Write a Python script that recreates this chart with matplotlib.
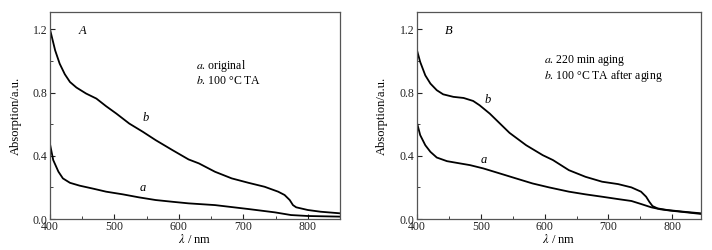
import matplotlib.pyplot as plt
from matplotlib.ticker import MultipleLocator

plt.rcParams['font.family'] = ['Liberation Serif', 'DejaVu Serif']
plt.rcParams['mathtext.fontset'] = 'stix'

# panel A
wl_a_A = [400, 405, 413, 420, 431, 446, 467, 487, 513, 538, 564, 590, 615,
          656, 708, 749, 774, 800, 850]
abs_a_A = [0.474, 0.373, 0.300, 0.257, 0.229, 0.211, 0.192, 0.173, 0.156, 0.137,
           0.120, 0.109, 0.099, 0.088, 0.063, 0.042, 0.025, 0.019, 0.015]
wl_b_A = [400, 408, 415, 423, 431, 441, 456, 472, 487, 503, 523, 544, 564, 590,
          615, 631, 656, 682, 708, 733, 754, 764, 772, 777, 782, 800, 820, 850]
abs_b_A = [1.200, 1.067, 0.983, 0.916, 0.867, 0.832, 0.794, 0.762, 0.714, 0.667,
           0.604, 0.552, 0.499, 0.436, 0.377, 0.352, 0.299, 0.257, 0.229, 0.204,
           0.173, 0.152, 0.120, 0.088, 0.074, 0.057, 0.046, 0.036]

# panel B
wl_a_B = [400, 405, 413, 421, 431, 447, 467, 483, 504, 530, 555, 581, 607, 638,
          664, 690, 715, 736, 751, 767, 782, 797, 818, 845]
abs_a_B = [0.608, 0.531, 0.467, 0.425, 0.389, 0.366, 0.352, 0.341, 0.320, 0.288,
           0.257, 0.225, 0.200, 0.173, 0.156, 0.141, 0.126, 0.114, 0.095, 0.074,
           0.061, 0.053, 0.044, 0.032]
wl_b_B = [400, 405, 413, 421, 431, 441, 457, 473, 488, 498, 514, 530, 545, 571,
          597, 613, 638, 664, 690, 715, 736, 751, 759, 764, 769, 777, 792, 818, 845]
abs_b_B = [1.067, 0.994, 0.909, 0.857, 0.815, 0.789, 0.773, 0.766, 0.747, 0.720,
           0.667, 0.604, 0.545, 0.467, 0.404, 0.373, 0.309, 0.267, 0.236, 0.221,
           0.200, 0.173, 0.141, 0.109, 0.082, 0.067, 0.057, 0.046, 0.036]

legend_A = ["original", "100 \u00b0C TA"]
legend_B = ["220 min aging", "100 \u00b0C TA after aging"]

fig = plt.figure(figsize=(7.12, 2.5), dpi=100)
axA = fig.add_axes([50/712, 31/250, 290/712, 207/250])
axB = fig.add_axes([417/712, 31/250, 284/712, 207/250])

panels = [
    (axA, wl_a_A, abs_a_A, wl_b_A, abs_b_A, 850, 'A', legend_A,
     (79, 31), (196, 66), (146, 118), (143, 188), 22),
    (axB, wl_a_B, abs_a_B, wl_b_B, abs_b_B, 845, 'B', legend_B,
     (445, 31), (544, 61), (488, 100), (484, 160), 388),
]


def fpos(p):
    # reference pixel (from top-left) -> figure fraction
    return p[0] / 712, 1 - p[1] / 250


for (ax, xa, ya, xb, yb, xmax, tag, leg, ptag, pleg, pb, pa, ylx) in panels:
    ax.plot(xa, ya, color='black', lw=1.3)
    ax.plot(xb, yb, color='black', lw=1.3)
    ax.set_xlim(400, xmax)
    ax.set_ylim(0, 1.31)
    ax.xaxis.set_major_locator(MultipleLocator(100))
    ax.xaxis.set_minor_locator(MultipleLocator(50))
    ax.yaxis.set_major_locator(MultipleLocator(0.4))
    ax.yaxis.set_minor_locator(MultipleLocator(0.2))
    ax.yaxis.set_major_formatter(lambda v, p: f"{v:.1f}")
    ax.tick_params(which='both', direction='in', top=False, right=False,
                   labelsize=8.5, colors='#222222')
    ax.tick_params(axis='x', pad=1.5)
    ax.tick_params(axis='y', pad=2)
    ax.tick_params(which='major', length=3.5)
    ax.tick_params(which='minor', length=2)
    for s in ax.spines.values():
        s.set_color('#555555')
        s.set_linewidth(0.9)
    ax.set_xlabel(r'$\lambda$ / nm', fontsize=9, labelpad=0)
    ax.set_ylabel('Absorption/a.u.', fontsize=9)
    pos = ax.get_position()
    ax.yaxis.set_label_coords((ylx / 712 - pos.x0) / pos.width, 0.5)

    fig.text(*fpos(ptag), tag, fontsize=9, style='italic', va='center')
    x0, y0 = fpos(pleg)
    fig.text(x0, y0, r'$\it{a}$. ' + leg[0], fontsize=8.5, va='center')
    fig.text(x0, y0 - 15/250, r'$\it{b}$. ' + leg[1], fontsize=8.5, va='center')
    fig.text(*fpos(pb), 'b', fontsize=9, style='italic', va='center', ha='center')
    fig.text(*fpos(pa), 'a', fontsize=9, style='italic', va='center', ha='center')

fig.savefig('out.png', dpi=100)
